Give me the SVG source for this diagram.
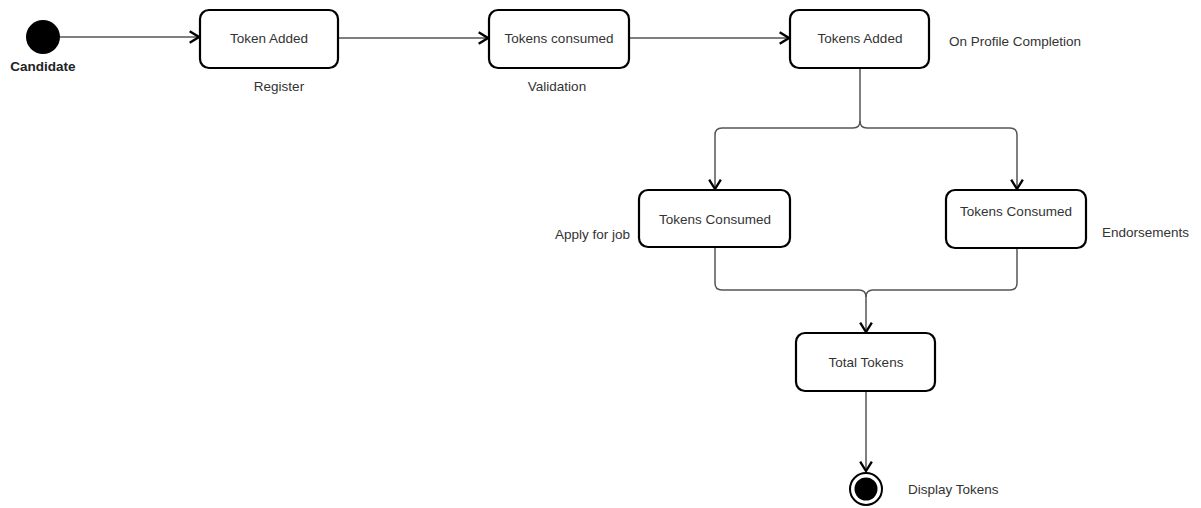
<svg xmlns="http://www.w3.org/2000/svg" width="1201" height="508" viewBox="0 0 1201 508">
<defs>
<style>
.node rect{fill:#fff;stroke:#000;stroke-width:2.2}
.t{font-family:"Liberation Sans",Arial,sans-serif;font-size:13.5px;fill:#333;text-anchor:middle}
.l{font-family:"Liberation Sans",Arial,sans-serif;font-size:13.5px;fill:#333}
.c{fill:none;stroke:#555;stroke-width:1.5}
</style>
<marker id="arr" markerUnits="userSpaceOnUse" markerWidth="14" markerHeight="14" refX="10" refY="6" orient="auto" viewBox="0 0 12 12">
<path d="M2,1 L10,6 L2,11" fill="none" stroke="#000" stroke-width="2"/>
</marker>
</defs>
<rect width="1201" height="508" fill="#fff"/>
<g id="connectors">
<path class="c" d="M60,37 H199" marker-end="url(#arr)"/>
<path class="c" d="M338,38 H488" marker-end="url(#arr)"/>
<path class="c" d="M629,38 H789" marker-end="url(#arr)"/>
<path class="c" d="M860,68 V121 Q860,128 853,128 H722 Q715,128 715,135 V189" marker-end="url(#arr)"/>
<path class="c" d="M860,121 Q860,128 867,128 H1010 Q1017,128 1017,135 V189" marker-end="url(#arr)"/>
<path class="c" d="M715,247 V283 Q715,290 722,290 H859 Q866,290 866,297 V332" marker-end="url(#arr)"/>
<path class="c" d="M1017,248 V283 Q1017,290 1010,290 H873 Q866,290 866,297"/>
<path class="c" d="M866,391 V471" marker-end="url(#arr)"/>
</g>
<g id="start">
<circle cx="43" cy="37" r="17" fill="#000"/>
<text x="43" y="71" class="t" style="font-weight:bold;fill:#222">Candidate</text>
</g>
<g id="token-added" class="node">
<rect x="200" y="10" width="138" height="58" rx="9"/>
<text x="269" y="43" class="t">Token Added</text>
</g>
<text x="279" y="91" class="t">Register</text>
<g id="tokens-consumed" class="node">
<rect x="489" y="10" width="140" height="58" rx="9"/>
<text x="559" y="43" class="t">Tokens consumed</text>
</g>
<text x="557" y="91" class="t">Validation</text>
<g id="tokens-added" class="node">
<rect x="790" y="10" width="139" height="58" rx="9"/>
<text x="860" y="43" class="t">Tokens Added</text>
</g>
<text x="949" y="46" class="l">On Profile Completion</text>
<g id="apply-job" class="node">
<rect x="639" y="190" width="151" height="57" rx="9"/>
<text x="715" y="224" class="t">Tokens Consumed</text>
</g>
<text x="555" y="239" class="l">Apply for job</text>
<g id="endorsements" class="node">
<rect x="946" y="190" width="140" height="58" rx="9"/>
<text x="1016" y="216" class="t">Tokens Consumed</text>
</g>
<text x="1102" y="237" class="l">Endorsements</text>
<g id="total-tokens" class="node">
<rect x="796" y="333" width="139" height="58" rx="9"/>
<text x="866" y="367" class="t">Total Tokens</text>
</g>
<g id="end">
<circle cx="866" cy="489" r="16" fill="#fff" stroke="#000" stroke-width="2"/>
<circle cx="866" cy="489" r="11.5" fill="#000"/>
</g>
<text x="908" y="494" class="l">Display Tokens</text>
</svg>
